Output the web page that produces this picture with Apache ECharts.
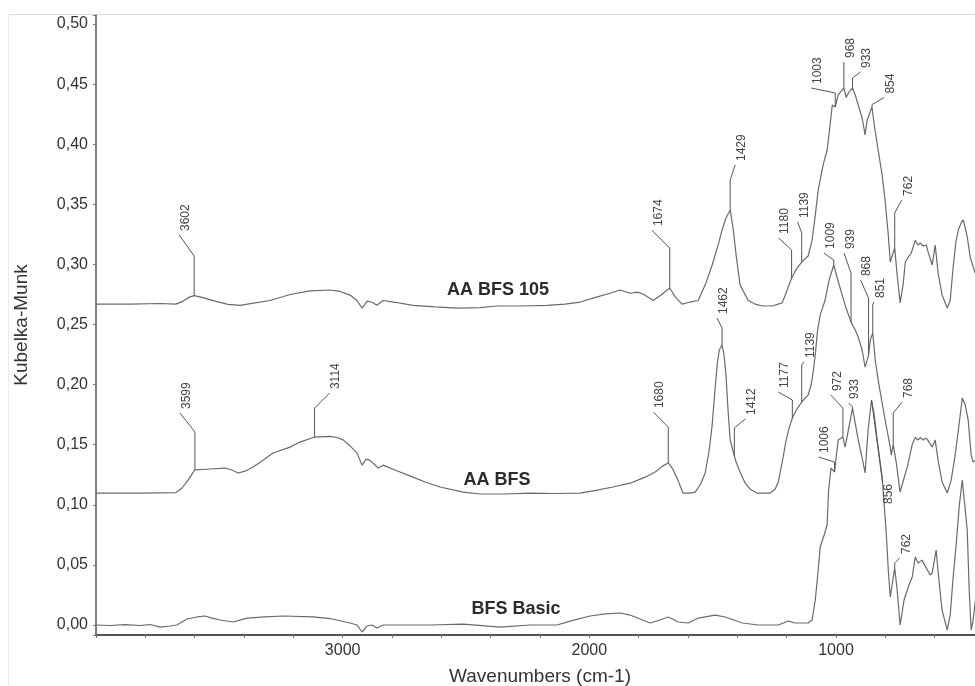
<!DOCTYPE html>
<html>
<head>
<meta charset="utf-8">
<script src="https://cdn.jsdelivr.net/npm/echarts@6/dist/echarts.min.js"></script>
<style>
html,body{margin:0;padding:0;background:#fff;}
#chart{width:975px;height:686px;}
</style>
</head>
<body>
<div id="chart"></div>
<script>
// ---- Spectra: [wavenumber (cm-1), Kubelka-Munk] ----
const aaBfs105 = [[4000,0.267],[3862,0.267],[3740,0.2675],[3676,0.267],[3647,0.2695],[3619,0.273],[3602,0.274],[3578,0.273],[3517,0.2695],[3465,0.2667],[3416,0.266],[3355,0.268],[3294,0.270],[3213,0.275],[3132,0.278],[3051,0.2787],[3011,0.2775],[2970,0.2745],[2942,0.270],[2921,0.2637],[2901,0.2695],[2881,0.2685],[2861,0.266],[2836,0.270],[2788,0.2685],[2715,0.266],[2625,0.2646],[2536,0.2637],[2443,0.2641],[2374,0.2654],[2281,0.2654],[2171,0.266],[2098,0.267],[2037,0.2687],[1968,0.273],[1916,0.276],[1875,0.2787],[1835,0.276],[1806,0.277],[1782,0.2754],[1741,0.270],[1709,0.2745],[1674,0.2804],[1652,0.273],[1624,0.267],[1591,0.2687],[1559,0.270],[1530,0.283],[1502,0.2995],[1478,0.316],[1462,0.3286],[1446,0.3386],[1429,0.3453],[1417,0.330],[1405,0.3078],[1389,0.283],[1356,0.270],[1328,0.267],[1299,0.2654],[1259,0.2654],[1218,0.268],[1198,0.2787],[1180,0.2887],[1161,0.296],[1139,0.302],[1113,0.307],[1097,0.320],[1084,0.341],[1072,0.362],[1052,0.383],[1036,0.395],[1024,0.416],[1015,0.4326],[1003,0.431],[991,0.441],[968,0.4468],[959,0.439],[947,0.4434],[933,0.4468],[922,0.441],[910,0.4326],[894,0.4218],[882,0.4077],[874,0.420],[854,0.431],[845,0.416],[829,0.395],[813,0.3744],[801,0.3536],[788,0.3245],[780,0.302],[762,0.3137],[752,0.291],[740,0.268],[728,0.283],[719,0.302],[707,0.306],[695,0.3095],[679,0.320],[667,0.316],[659,0.318],[647,0.3153],[634,0.316],[626,0.310],[610,0.2995],[598,0.316],[586,0.293],[570,0.2745],[549,0.2637],[537,0.270],[525,0.298],[513,0.320],[504,0.3286],[492,0.335],[484,0.337],[476,0.330],[468,0.323],[456,0.306],[436,0.293],[415,0.283]];

const aaBfs = [[4000,0.1098],[3822,0.1098],[3676,0.1102],[3651,0.114],[3627,0.1206],[3599,0.129],[3538,0.1298],[3477,0.1306],[3449,0.129],[3424,0.1265],[3396,0.128],[3363,0.1314],[3323,0.137],[3282,0.1431],[3213,0.148],[3173,0.1522],[3114,0.1564],[3051,0.157],[3023,0.156],[2998,0.154],[2970,0.149],[2942,0.143],[2921,0.133],[2905,0.138],[2889,0.137],[2873,0.134],[2856,0.1306],[2836,0.133],[2788,0.129],[2715,0.123],[2666,0.119],[2605,0.1148],[2512,0.1106],[2443,0.109],[2342,0.109],[2240,0.1098],[2139,0.1094],[2037,0.1098],[1968,0.1123],[1904,0.1148],[1835,0.118],[1774,0.123],[1733,0.1273],[1705,0.132],[1680,0.1348],[1664,0.1306],[1644,0.122],[1620,0.1098],[1591,0.1098],[1571,0.1106],[1551,0.1165],[1530,0.1265],[1514,0.1456],[1502,0.1664],[1489,0.1997],[1481,0.218],[1473,0.2288],[1462,0.233],[1454,0.2246],[1446,0.208],[1437,0.1764],[1429,0.154],[1412,0.1406],[1405,0.1356],[1389,0.1273],[1368,0.118],[1348,0.113],[1320,0.1098],[1267,0.1098],[1247,0.113],[1234,0.119],[1218,0.1356],[1202,0.154],[1190,0.164],[1177,0.1722],[1161,0.1789],[1139,0.1855],[1125,0.1889],[1113,0.1913],[1101,0.1997],[1093,0.2097],[1084,0.2246],[1076,0.243],[1064,0.258],[1044,0.2704],[1028,0.287],[1009,0.2995],[995,0.2887],[975,0.2745],[959,0.2637],[939,0.252],[922,0.2454],[910,0.2396],[894,0.2288],[882,0.2146],[868,0.2246],[861,0.237],[851,0.243],[841,0.2205],[829,0.2038],[813,0.1847],[797,0.1664],[780,0.148],[776,0.1414],[768,0.150],[756,0.1356],[740,0.1106],[724,0.1223],[711,0.1314],[703,0.1306],[691,0.150],[679,0.156],[667,0.154],[659,0.156],[647,0.154],[634,0.1556],[622,0.152],[610,0.148],[598,0.154],[586,0.137],[570,0.119],[549,0.1098],[533,0.1206],[517,0.1414],[504,0.162],[488,0.1889],[476,0.183],[464,0.1705],[452,0.1414],[444,0.1356],[436,0.1356],[415,0.14]];

const bfsBasic = [[4000,0],[3943,-0.0004],[3882,0.0004],[3822,-0.0004],[3781,0.0004],[3740,-0.0017],[3700,-0.0008],[3672,0],[3631,0.005],[3590,0.0067],[3558,0.0075],[3530,0.0058],[3497,0.0042],[3444,0.0025],[3388,0.0058],[3315,0.0067],[3242,0.0075],[3120,0.0067],[3051,0.0054],[2970,0.0017],[2942,0],[2921,-0.0058],[2901,-0.0008],[2881,0],[2861,-0.0025],[2836,0],[2646,0],[2512,0.0008],[2362,-0.0017],[2240,0],[2131,0],[2078,0.0033],[1997,0.0075],[1936,0.0092],[1875,0.01],[1835,0.0083],[1794,0.005],[1754,0.0017],[1714,0.0042],[1680,0.0067],[1640,0.0025],[1599,0.0017],[1559,0.0058],[1490,0.0083],[1449,0.0067],[1380,0.0017],[1315,0],[1234,0],[1193,0.0033],[1166,0.0017],[1113,0.0017],[1097,0.0042],[1084,0.0208],[1076,0.0374],[1064,0.0649],[1048,0.0749],[1036,0.0832],[1030,0.1123],[1020,0.1306],[1006,0.1273],[991,0.154],[972,0.1564],[963,0.148],[933,0.1805],[910,0.154],[894,0.139],[882,0.1265],[870,0.162],[856,0.1872],[845,0.1747],[833,0.154],[813,0.1231],[797,0.079],[788,0.0458],[780,0.0233],[762,0.0474],[752,0.0291],[740,0],[724,0.0208],[707,0.0316],[691,0.0399],[679,0.0566],[667,0.0516],[651,0.054],[638,0.049],[630,0.0483],[618,0.0416],[610,0.0433],[594,0.0624],[586,0.0441],[570,0.0125],[549,-0.0042],[537,0.0083],[525,0.0399],[513,0.0666],[500,0.0998],[488,0.1206],[480,0.104],[468,0.079],[460,0.0291],[452,-0.0042],[444,0.0042],[436,0.0183],[415,0.05]];

// ---- Peak annotations: wavenumber labels and leader-top level (K-M units) ----
const peaks105 = [3602,1674,1429,1180,1139,1003,968,933,854,762];
const leaderTop105 = [0.307,0.3136,0.3702,0.312,0.3261,0.4426,0.4659,0.4551,0.433,0.3428];
const peaksAA = [3599,3114,1680,1462,1412,1177,1139,1009,939,868,851,768];
const leaderTopAA = [0.1606,0.1805,0.1647,0.2471,0.1639,0.1872,0.2163,0.3037,0.2928,0.272,0.2662,0.1764];
const peaksBasic = [1006,972,933,856,762];
const leaderTopBasic = [0.1356,0.1805,0.1814,0.1872,0.0516];

// series names and where their captions sit
const seriesNames = ['AA BFS 105','AA BFS','BFS Basic'];
const captionAt = [[2370,0.2787],[2374,0.1206],[2297,0.0133]];

const xTicks = [1000,2000,3000];

// ---- layout (pixel bends of leader lines) ----
const bend105 = [[-15,-21],[-18,-18],[5,-15],[-13,-12],[-4,-11],[-24,-5],[0,-3],[8,-6],[12,-7],[7,-13]];
const bendAA = [[-15,-19],[15,-15],[-15,-15],[-5,-10],[11,-9],[-14,-8],[2,-3],[-10,-7],[-7,-20],[-8,-18],[1,-3],[9,-11]];
const bendBasic = [[-16,-5],[-12,-13],[-4,-4],[11,82],[5,-5]];

const FONT = '"Liberation Sans", Arial, Helvetica, sans-serif';
const LINE = '#6a6a6a';

function interp(curve, w){
  for (let i=0;i<curve.length-1;i++){
    const a=curve[i], b=curve[i+1];
    if ((w<=a[0] && w>=b[0])){
      if (a[0]===b[0]) return a[1];
      const t=(a[0]-w)/(a[0]-b[0]);
      return a[1]+(b[1]-a[1])*t;
    }
  }
  return curve[curve.length-1][1];
}

function annotSeries(curve, peaks, tops, bends){
  const data = peaks.map((w,i)=>[w, interp(curve,w), tops[i]]);
  return {
    type:'custom', coordinateSystem:'cartesian2d', silent:true, z:5,
    animation:false, clip:false,
    encode:{x:0, y:[1,2]},
    data,
    renderItem(params, api){
      const i = params.dataIndex;
      const p0 = api.coord([api.value(0), api.value(1)]);
      const p1 = api.coord([api.value(0), api.value(2)]);
      const b = bends[i];
      const p2 = [p1[0]+b[0], p1[1]+b[1]];
      const below = b[1] > 0;
      return {type:'group', children:[
        {type:'polyline', shape:{points:[p0,p1,p2]}, style:{stroke:'#555', lineWidth:1, fill:'none'}},
        {type:'text', x:p2[0]+6.5, y: below ? p2[1]+2 : p2[1]-4, rotation:Math.PI/2,
         style:{text:String(peaks[i]), align: below?'right':'left', verticalAlign:'middle',
                fontSize:12, fontFamily:FONT, fill:'#444'}}
      ]};
    }
  };
}

function lineSeries(name, data, cap){
  return {
    type:'line', name, data, showSymbol:false, symbol:'none', smooth:false,
    lineStyle:{color:LINE, width:1.2}, animation:false, z:3, clip:false,
    markPoint:{
      symbol:'circle', symbolSize:0, silent:true, animation:false,
      label:{show:true, position:'inside', formatter:'{b}', fontFamily:FONT, fontWeight:'bold', fontSize:18, color:'#2b2b2b'},
      data:[{name, coord:cap}]
    }
  };
}

const chart = echarts.init(document.getElementById('chart'), null, {renderer:'canvas'});
chart.setOption({
  backgroundColor:'#ffffff',
  animation:false,
  grid:{left:96, right:-9, top:15, bottom:51, containLabel:false, outerBoundsMode:'none'},
  xAxis:{
    type:'value', inverse:true, min:400, max:4000, interval:200,
    name:'Wavenumbers (cm-1)', nameLocation:'middle', nameGap:32,
    nameTextStyle:{fontFamily:FONT, fontSize:19, color:'#333'},
    axisLine:{show:true, onZero:false, lineStyle:{color:'#555', width:2}},
    axisTick:{show:true, length:3, lineStyle:{color:'#777'}},
    axisLabel:{interval:0, margin:8, fontFamily:FONT, fontSize:16, color:'#333',
      formatter:v => xTicks.indexOf(Math.round(v))>=0 ? String(Math.round(v)) : ''},
    splitLine:{show:false}
  },
  yAxis:{
    type:'value', min:-0.0083, max:0.5075, splitNumber:10,
    name:'Kubelka-Munk', nameLocation:'middle', nameGap:65,
    nameTextStyle:{fontFamily:FONT, fontSize:19, color:'#333'},
    axisLine:{show:true, onZero:false, lineStyle:{color:'#555', width:1.5}},
    axisTick:{show:true, length:3, lineStyle:{color:'#777'}},
    axisLabel:{margin:8, fontFamily:FONT, fontSize:16, color:'#333',
      formatter:v => { const k=v/0.05; return Math.abs(k-Math.round(k))<1e-6 ? v.toFixed(2).replace('.',',') : ''; }},
    splitLine:{show:false}
  },
  graphic:[
    {type:'line', shape:{x1:8,y1:14.5,x2:975,y2:14.5}, style:{stroke:'#dcdcdc', lineWidth:1}, silent:true},
    {type:'line', shape:{x1:8.5,y1:14,x2:8.5,y2:686}, style:{stroke:'#ececec', lineWidth:1}, silent:true}
  ],
  series:[
    lineSeries(seriesNames[0], aaBfs105, captionAt[0]),
    lineSeries(seriesNames[1], aaBfs, captionAt[1]),
    lineSeries(seriesNames[2], bfsBasic, captionAt[2]),
    annotSeries(aaBfs105, peaks105, leaderTop105, bend105),
    annotSeries(aaBfs, peaksAA, leaderTopAA, bendAA),
    annotSeries(bfsBasic, peaksBasic, leaderTopBasic, bendBasic)
  ]
});
</script>
</body>
</html>
